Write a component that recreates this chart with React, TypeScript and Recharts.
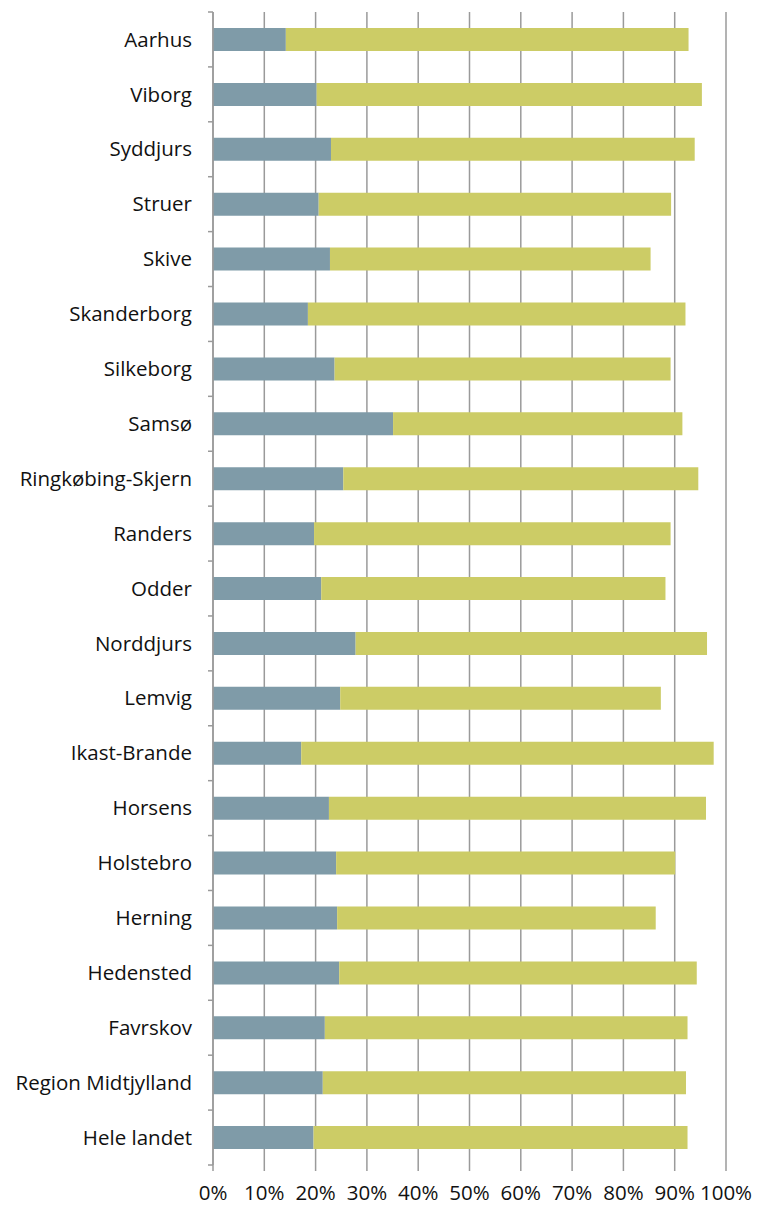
import React from "react";
import { BarChart, Bar, XAxis, YAxis, CartesianGrid } from "recharts";

const categories = [
  "Aarhus", "Viborg", "Syddjurs", "Struer", "Skive", "Skanderborg", "Silkeborg",
  "Samsø", "Ringkøbing-Skjern", "Randers", "Odder", "Norddjurs", "Lemvig",
  "Ikast-Brande", "Horsens", "Holstebro", "Herning", "Hedensted", "Favrskov",
  "Region Midtjylland", "Hele landet",
];
const firstShare = [
  14.2, 20.2, 23.0, 20.6, 22.8, 18.5, 23.7, 35.1, 25.4, 19.7, 21.1, 27.8, 24.8,
  17.2, 22.6, 24.0, 24.2, 24.6, 21.8, 21.4, 19.6,
];
const totalShare = [
  92.7, 95.3, 93.9, 89.3, 85.3, 92.1, 89.2, 91.5, 94.6, 89.2, 88.2, 96.3, 87.3,
  97.6, 96.1, 90.1, 86.3, 94.3, 92.5, 92.2, 92.5,
];
const xTicks = [0, 10, 20, 30, 40, 50, 60, 70, 80, 90, 100];

const data = categories.map((name, i) => ({
  name,
  a: firstShare[i],
  b: +(totalShare[i] - firstShare[i]).toFixed(1),
}));

const FONT = "'Open Sans', Lato, sans-serif";
const FS = 20.5;
const AXIS = "#9a9a9a";
const TOP = 12;
const BOTTOM_AXIS = 44;
const H = 1209;
const band = (H - TOP - BOTTOM_AXIS) / categories.length;

const YTick = (props: any) => {
  const { y, payload, index } = props;
  const isLast = index === categories.length - 1;
  return (
    <g>
      <line x1={213 - 5} x2={213} y1={y - band / 2} y2={y - band / 2} stroke={AXIS} strokeWidth={1.5} />
      {isLast && (
        <line x1={213 - 5} x2={213} y1={y + band / 2} y2={y + band / 2} stroke={AXIS} strokeWidth={1.5} />
      )}
      <text x={192} y={y} dy="0.35em" textAnchor="end" fontFamily={FONT} fontSize={FS} fill="#111">
        {payload.value}
      </text>
    </g>
  );
};

export default function App() {
  return (
    <div style={{ position: "absolute", left: 0, top: 0, width: 757, height: H, background: "#fff" }}>
      <BarChart
        width={757}
        height={H}
        data={data}
        layout="vertical"
        margin={{ top: TOP, right: 31, left: 0, bottom: 0 }}
        barSize={23}
      >
        <CartesianGrid horizontal={false} vertical={true} stroke={AXIS} strokeWidth={1.5} />
        <XAxis
          type="number"
          domain={[0, 100]}
          ticks={xTicks}
          tickFormatter={(v: number) => `${v}%`}
          axisLine={false}
          tickLine={{ stroke: AXIS, strokeWidth: 1.5 }}
          tickSize={6}
          tickMargin={14}
          height={BOTTOM_AXIS}
          interval={0}
          tick={{ fontFamily: FONT, fontSize: FS, fill: "#111" }}
        />
        <YAxis
          type="category"
          dataKey="name"
          width={213}
          axisLine={{ stroke: AXIS, strokeWidth: 1.5 }}
          tickLine={false}
          interval={0}
          tick={<YTick />}
        />
        <Bar dataKey="a" stackId="s" fill="#7F9BA8" isAnimationActive={false} />
        <Bar dataKey="b" stackId="s" fill="#CCCC66" isAnimationActive={false} />
      </BarChart>
    </div>
  );
}
